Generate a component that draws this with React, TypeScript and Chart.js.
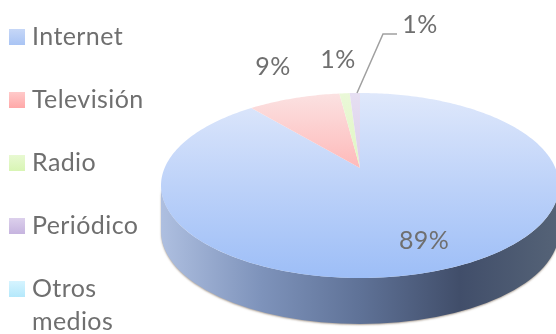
import React, { useEffect, useRef } from "react";
import { Chart, registerables } from "chart.js";

Chart.register(...registerables);

const categories = ["Internet", "Televisión", "Radio", "Periódico", "Otros medios"];
const shares = [89, 9, 1, 1, 0];
const legendLines = [["Internet"], ["Televisión"], ["Radio"], ["Periódico"], ["Otros", "medios"]];

const sliceStops = [
  ["#dfe8fb", "#bdd2f9", "#9dbef7"],
  ["#fbe2e2", "#ffb0b0", "#ff9090"],
  ["#eaf8d8", "#def6bd", "#d0f09e"],
  ["#e6dff2", "#d8cbea", "#c8b6e0"],
  ["#d8f4ff", "#b4e8fb", "#9fe0f8"],
];
const swatchStops = [
  ["#c6d7f7", "#a9c4f4"],
  ["#ffcaca", "#ffa8a8"],
  ["#e8f9d2", "#d8f5b4"],
  ["#dcd0ec", "#c6b4df"],
  ["#d6f4ff", "#b4e8fb"],
];

const TEXT = "#6f6f6f";
const FONT = "25px Lato, sans-serif";

// Tilted disc: ellipse outline, hub position and rim depth.
const disc = { cx: 360, hubY: 168, top: 93, bottom: 278, halfWidth: 199, depth: 46 };

// Projects a point of the unit circle onto the tilted disc, nearer edge larger.
function project(u: number, v: number) {
  const { cx, hubY, top, bottom, halfWidth } = disc;
  const up = hubY - top;
  const down = bottom - hubY;
  const c = (up - down) / (top * -1 + bottom);
  const a = up + top * c;
  const d = 1 + c * v;
  const r = halfWidth * Math.sqrt(1 - c * c);
  return { x: cx + (r * u) / d, y: (a * v + hubY) / d };
}

const tiltedPie = {
  id: "tiltedPie",
  beforeDatasetDraw(chart: any) {
    const { ctx } = chart;
    const { cx, top, bottom, halfWidth, depth } = disc;
    const ey = (top + bottom) / 2;
    const ry = (bottom - top) / 2;

    // Rim below the top face
    ctx.save();
    const rim = ctx.createLinearGradient(cx - halfWidth, 0, cx + halfWidth, 0);
    rim.addColorStop(0, "#aebfe0");
    rim.addColorStop(0.25, "#7e93bb");
    rim.addColorStop(0.5, "#5f7297");
    rim.addColorStop(0.75, "#414e6a");
    rim.addColorStop(1, "#556377");
    ctx.shadowColor = "rgba(110,90,70,0.55)";
    ctx.shadowBlur = 2;
    ctx.shadowOffsetY = 1;
    ctx.fillStyle = rim;
    ctx.beginPath();
    ctx.ellipse(cx, ey + depth, halfWidth, ry, 0, 0, Math.PI);
    ctx.ellipse(cx, ey, halfWidth, ry, 0, Math.PI, 0, true);
    ctx.closePath();
    ctx.fill();
    ctx.restore();

    // Top face, one path per slice from the angles the controller computed
    const arcs = chart.getDatasetMeta(0).data;
    arcs.forEach((arc: any) => {
      const { startAngle, endAngle } = arc;
      if (endAngle - startAngle <= 0) return;
      ctx.beginPath();
      const hub = project(0, 0);
      ctx.moveTo(hub.x, hub.y);
      const steps = Math.max(2, Math.ceil((endAngle - startAngle) * 60));
      for (let i = 0; i <= steps; i++) {
        const t = startAngle + ((endAngle - startAngle) * i) / steps;
        const p = project(Math.cos(t), Math.sin(t));
        ctx.lineTo(p.x, p.y);
      }
      ctx.closePath();
      ctx.fillStyle = arc.options.backgroundColor;
      ctx.fill();
    });
    return false;
  },
  afterDatasetsDraw(chart: any) {
    const { ctx } = chart;
    ctx.save();
    ctx.font = FONT;
    ctx.letterSpacing = "0.4px";
    ctx.fillStyle = TEXT;
    ctx.textAlign = "center";
    ctx.textBaseline = "middle";
    const labelSpots = [
      [424, 241],
      [273, 67],
      [338, 60],
      [420, 25],
    ];
    labelSpots.forEach(([x, y], i) => ctx.fillText(`${shares[i]}%`, x, y));

    // Leader line to the narrow slice
    ctx.strokeStyle = "#a0a0a0";
    ctx.lineWidth = 1.5;
    ctx.beginPath();
    ctx.moveTo(357, 93);
    ctx.lineTo(383, 34);
    ctx.lineTo(397, 34);
    ctx.stroke();

    // Legend column
    ctx.textAlign = "left";
    legendLines.forEach((lines, i) => {
      const y = 37 + i * 63;
      const g = ctx.createLinearGradient(0, y - 8, 0, y + 8);
      g.addColorStop(0, swatchStops[i][0]);
      g.addColorStop(1, swatchStops[i][1]);
      ctx.fillStyle = g;
      ctx.fillRect(9, y - 8, 16, 16);
      ctx.fillStyle = TEXT;
      lines.forEach((line, j) => ctx.fillText(line, 32, y + j * 33));
    });
    ctx.restore();
  },
};

export default function App() {
  const ref = useRef<HTMLCanvasElement>(null);
  useEffect(() => {
    const ctx = ref.current!.getContext("2d")!;
    const fills = sliceStops.map((stops) => {
      const g = ctx.createLinearGradient(0, disc.top, 0, disc.bottom);
      stops.forEach((s, i) => g.addColorStop(i / 2, s));
      return g;
    });
    const chart = new Chart(ctx, {
      type: "pie",
      data: {
        labels: categories,
        datasets: [{ data: shares, backgroundColor: fills, borderWidth: 0 }],
      },
      options: {
        animation: false,
        responsive: false,
        plugins: { legend: { display: false }, tooltip: { enabled: false } },
      },
      plugins: [tiltedPie],
    } as any);
    return () => chart.destroy();
  }, []);
  return (
    <div style={{ position: "fixed", left: 0, top: 0, width: 556, height: 334, background: "#fff", overflow: "hidden" }}>
      <canvas ref={ref} width={556} height={334} style={{ display: "block" }} />
    </div>
  );
}
